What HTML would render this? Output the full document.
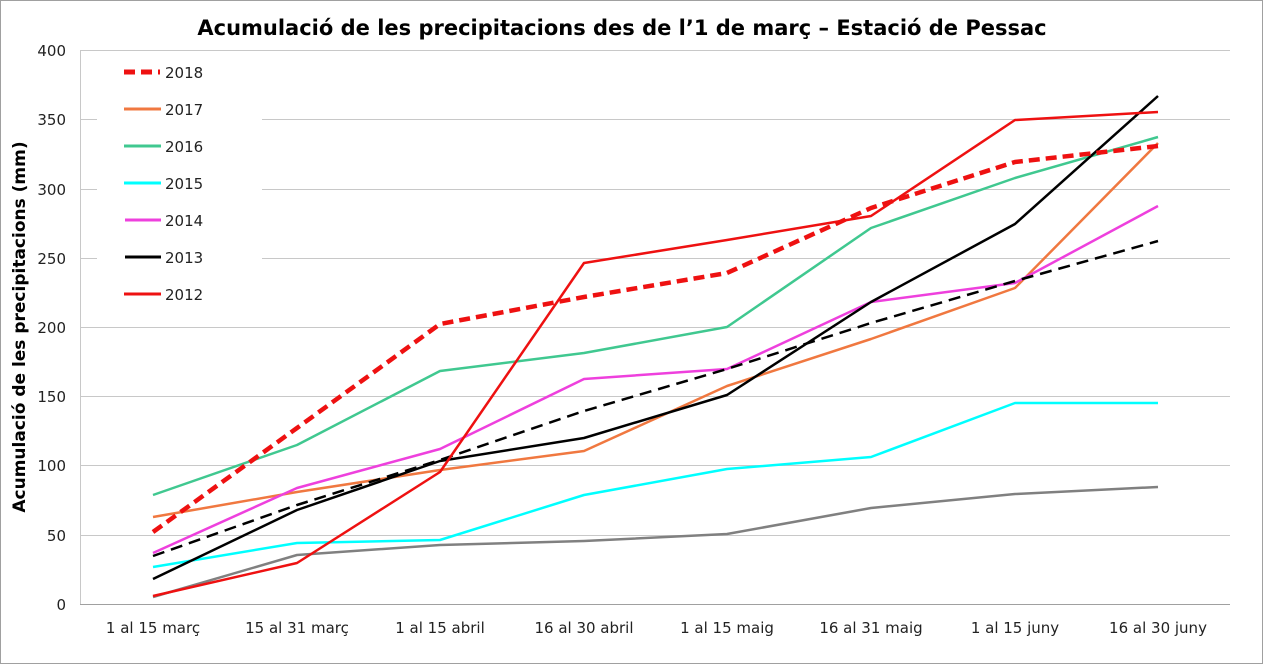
<!DOCTYPE html>
<html><head><meta charset="utf-8"><style>
html,body{margin:0;padding:0;background:#fff;}
svg{display:block;font-family:"DejaVu Sans","Liberation Sans",sans-serif;}
</style></head><body>
<svg width="1263" height="664" viewBox="0 0 1263 664">
<rect x="0.5" y="0.5" width="1262" height="663" fill="#fff" stroke="#a0a0a0"/>
<text x="622" y="35" text-anchor="middle" font-size="21" font-weight="bold">Acumulació de les precipitacions des de l’1 de març – Estació de Pessac</text>
<g stroke="#c8c8c8" stroke-width="1">
<line x1="80" y1="50.5" x2="1230" y2="50.5"/>
<line x1="80" y1="119.5" x2="1230" y2="119.5"/>
<line x1="80" y1="189.5" x2="1230" y2="189.5"/>
<line x1="80" y1="258.5" x2="1230" y2="258.5"/>
<line x1="80" y1="327.5" x2="1230" y2="327.5"/>
<line x1="80" y1="396.5" x2="1230" y2="396.5"/>
<line x1="80" y1="465.5" x2="1230" y2="465.5"/>
<line x1="80" y1="535.5" x2="1230" y2="535.5"/>
</g>
<rect x="97" y="60" width="165" height="250" fill="#fff"/>
<line x1="80.5" y1="50" x2="80.5" y2="604" stroke="#c8c8c8"/>
<line x1="80" y1="604.5" x2="1230" y2="604.5" stroke="#a0a0a0"/>
<g font-size="15" text-anchor="end" fill="#222">
<text x="66" y="56">400</text><text x="66" y="125">350</text><text x="66" y="195">300</text>
<text x="66" y="264">250</text><text x="66" y="333">200</text><text x="66" y="402">150</text>
<text x="66" y="471">100</text><text x="66" y="541">50</text><text x="66" y="610">0</text>
</g>
<g font-size="15" text-anchor="middle" fill="#222">
<text x="153" y="633">1 al 15 març</text><text x="297" y="633">15 al 31 març</text>
<text x="440" y="633">1 al 15 abril</text><text x="584" y="633">16 al 30 abril</text>
<text x="727" y="633">1 al 15 maig</text><text x="871" y="633">16 al 31 maig</text>
<text x="1015" y="633">1 al 15 juny</text><text x="1158" y="633">16 al 30 juny</text>
</g>
<text transform="translate(25,327) rotate(-90)" text-anchor="middle" font-size="17" font-weight="bold">Acumulació de les precipitacions (mm)</text>
<g fill="none" stroke-width="2.5" stroke-linejoin="round">
<polyline stroke="#808080" points="153,597 297,555 440,545 584,541 727,534 871,508 1015,494 1158,487"/>
<polyline stroke="#00ffff" points="153,567 297,543 440,540 584,495 727,469 871,457 1015,403 1158,403"/>
<polyline stroke="#f07840" points="153,517 297,492 440,470 584,451 727,386 871,339 1015,288 1158,143"/>
<polyline stroke="#40c890" points="153,495 297,445 440,371 584,353 727,327 871,228 1015,178 1158,137"/>
<polyline stroke="#ee40dd" points="153,553 297,488 440,449 584,379 727,369 871,302 1015,283 1158,206"/>
<polyline stroke="#000" stroke-dasharray="12,7" points="153,556 297,505 440,460 584,411 727,369 871,323 1015,281 1158,241"/>
<polyline stroke="#000" points="153,579 297,510 440,461 584,438 727,395 871,302 1015,224 1158,96"/>
<polyline stroke="#ee1111" points="153,596 297,563 440,472 584,263 727,240 871,216 1015,120 1158,112"/>
<polyline stroke="#ee1111" stroke-width="4.5" stroke-dasharray="11,6" points="153,532 297,428 440,324 584,297 727,273 871,208 1015,162 1158,146"/>
</g>
<g stroke-width="3">
<line x1="124" y1="72" x2="160" y2="72" stroke="#ee1111" stroke-width="5" stroke-dasharray="11,6"/>
<line x1="124" y1="109" x2="161" y2="109" stroke="#f07840"/>
<line x1="124" y1="146" x2="161" y2="146" stroke="#40c890"/>
<line x1="124" y1="183" x2="161" y2="183" stroke="#00ffff"/>
<line x1="125" y1="220" x2="161" y2="220" stroke="#ee40dd"/>
<line x1="125" y1="257" x2="161" y2="257" stroke="#000"/>
<line x1="124" y1="294" x2="161" y2="294" stroke="#ee1111"/>
</g>
<g font-size="15" fill="#222">
<text x="165" y="78">2018</text><text x="165" y="115">2017</text><text x="165" y="152">2016</text>
<text x="165" y="189">2015</text><text x="165" y="226">2014</text><text x="165" y="263">2013</text>
<text x="165" y="300">2012</text>
</g>
</svg>
</body></html>
